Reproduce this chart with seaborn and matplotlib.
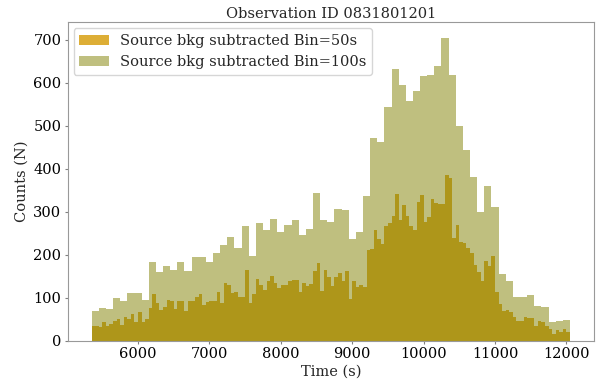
import numpy as np
import pandas as pd
import matplotlib
matplotlib.use("Agg")
import matplotlib.pyplot as plt
import seaborn as sns

# ---- data ----
t_start = 5350          # first bin edge (s)
counts_100s = [70, 76, 74, 99, 93, 112, 112, 96, 184, 161, 173, 166,
               184, 163, 194, 194, 183, 205, 223, 241, 215, 268, 198, 274, 257,
               284, 254, 270, 282, 247, 260, 344, 280, 276, 307, 303, 237, 254, 337,
               472, 463, 543, 632, 595, 558, 581, 616, 618, 638, 704, 618, 499,
               443, 381, 299, 359, 311, 155, 140, 103, 101, 107, 82, 79, 44, 47, 48]
counts_50s = [35, 35, 33, 43, 35, 39, 47, 52, 38, 55, 50, 62, 45, 67, 44, 52, 76, 108, 88, 73, 78, 95, 92, 74,
              92, 92, 70, 93, 93, 101, 110, 84, 91, 92, 92, 113, 89, 134, 130, 111, 113, 102, 103, 165, 89, 109, 144, 130, 118, 139,
              150, 134, 124, 130, 130, 140, 141, 141, 113, 134, 128, 132, 163, 181, 115, 165, 148, 128, 149, 158, 140, 163, 97, 140, 125, 129, 125, 212,
              214, 258, 237, 226, 268, 275, 290, 342, 280, 315, 290, 268, 258, 323, 340, 276, 288, 330, 320, 318, 318, 386, 378, 240, 270, 229,
              228, 215, 204, 177, 160, 139, 185, 174, 198, 113, 86, 69, 72, 68, 56, 47, 46, 55, 54, 53, 35, 47, 44, 35, 28, 16, 26, 21, 28, 20]
labels = ["Source bkg subtracted Bin=50s", "Source bkg subtracted Bin=100s"]
title = "Observation ID 0831801201"

t_end = t_start + 100 * len(counts_100s)
times_50 = t_start + 50 * np.arange(len(counts_50s)) + 25
times_100 = t_start + 100 * np.arange(len(counts_100s)) + 50
df50 = pd.DataFrame({"time": times_50, "counts": counts_50s})
df100 = pd.DataFrame({"time": times_100, "counts": counts_100s})

sns.set_style("ticks")
plt.rcParams["font.family"] = ["DejaVu Serif"]
plt.rcParams["font.size"] = 10.5

fig = plt.figure(figsize=(6.07, 3.81), dpi=100)
ax = fig.add_axes([0.1115, 0.105, 0.867, 0.8365])

sns.histplot(data=df50, x="time", weights="counts", binwidth=50,
             binrange=(t_start, t_end), ax=ax,
             color="goldenrod", alpha=0.9, linewidth=0, label=labels[0])
sns.histplot(data=df100, x="time", weights="counts", binwidth=100,
             binrange=(t_start, t_end), ax=ax,
             color="olive", alpha=0.5, linewidth=0, label=labels[1])

ax.set_xlim(5015, 12385)
ax.set_ylim(0, 740)
ax.set_xticks([6000, 7000, 8000, 9000, 10000, 11000, 12000])
ax.set_yticks(range(0, 701, 100))
ax.set_xlabel("Time (s)", labelpad=2.5)
ax.set_ylabel("Counts (N)", labelpad=3)
ax.set_title(title, fontsize=10.5, pad=3)
for s in ax.spines.values():
    s.set_color("0.6")
    s.set_visible(True)
ax.tick_params(axis="both", colors="0.5", labelcolor="black",
               length=2.5, width=0.8, pad=2)
ax.legend(loc="upper left", frameon=True, fontsize=10.5, borderaxespad=0.4)

fig.savefig("out.png", dpi=100)
